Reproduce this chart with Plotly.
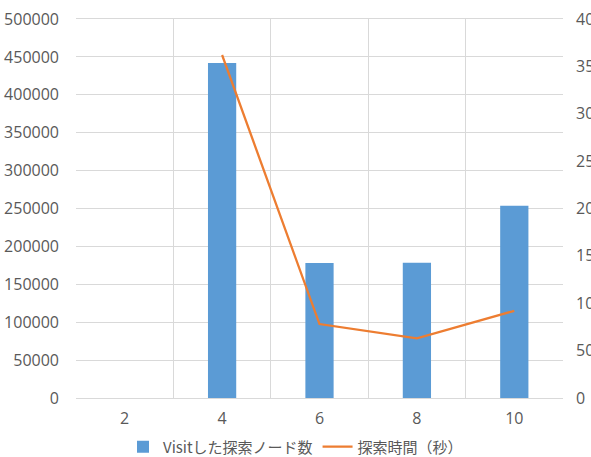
import plotly.graph_objects as go

categories = ["2", "4", "6", "8", "10"]
visit_nodes = [0, 442000, 178000, 178500, 253500]
line_x = ["4", "6", "8", "10"]
search_time = [362, 78, 63, 92]

bar_name = "Visitした探索ノード数"
line_name = "探索時間（秒）"

tick_font = dict(family="Open Sans, Noto Sans CJK JP", size=16, color="#595959")
grid = "#d9d9d9"

fig = go.Figure()
fig.add_trace(go.Bar(x=categories, y=visit_nodes, name=bar_name,
                     marker=dict(color="#5b9bd5", line=dict(width=0)), width=0.29))
fig.add_trace(go.Scatter(x=line_x, y=search_time, name=line_name, yaxis="y2",
                         mode="lines", line=dict(color="#ed7d31", width=2.25)))

fig.update_layout(
    width=591, height=457,
    margin=dict(l=76, r=28, t=19, b=59),
    paper_bgcolor="white", plot_bgcolor="white",
    showlegend=True,
    legend=dict(orientation="h", x=0.5, xanchor="center", xref="container",
                y=0.022, yanchor="middle", yref="container",
                bgcolor="rgba(0,0,0,0)",
                font=dict(family="Noto Sans CJK JP", size=15, color="#595959"),
                itemwidth=30, tracegroupgap=0),
    xaxis=dict(type="category", tickson="boundaries", showgrid=True, gridcolor=grid,
               gridwidth=1, ticks="", tickfont=tick_font, showline=True, linecolor=grid,
               mirror=True, ticklabelstandoff=6, automargin=False),
    yaxis=dict(range=[0, 500000], dtick=50000, showgrid=True, gridcolor=grid,
               tickfont=tick_font, ticks="", ticklabelstandoff=16, zeroline=False,
               tickformat="d", automargin=False, showline=False),
    yaxis2=dict(range=[0, 400], dtick=50, overlaying="y", side="right", showgrid=False,
                tickfont=tick_font, ticks="", ticklabelstandoff=12, zeroline=False,
                automargin=False),
)

fig.write_html("out.html")
